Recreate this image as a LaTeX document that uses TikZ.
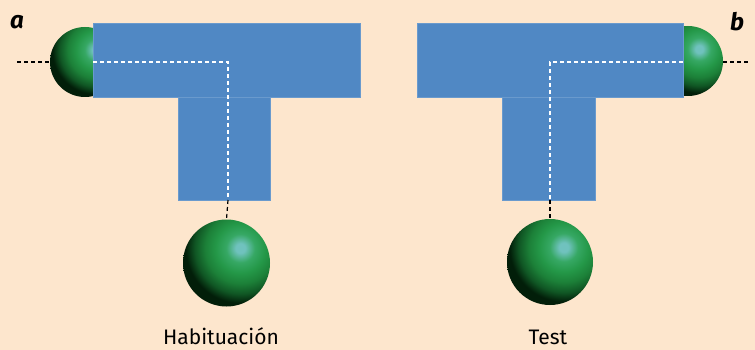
\documentclass[tikz,border=0pt]{standalone}
\usepackage{fontspec}
\setmainfont{Fira Sans}
\definecolor{bgpeach}{RGB}{253,230,205}
\definecolor{tblue}{RGB}{80,136,196}
\definecolor{hl}{RGB}{112,194,190}
\definecolor{gA}{RGB}{54,168,100}
\definecolor{gB}{RGB}{36,152,72}
\definecolor{gC}{RGB}{28,128,56}
\definecolor{gD}{RGB}{16,86,36}
\definecolor{gE}{RGB}{2,30,9}
% radial shading centred on the highlight of each sphere
\pgfdeclareradialshading{spherelight}{\pgfpoint{0bp}{0bp}}{%
  color(0bp)=(hl); color(1.8bp)=(hl); color(5.5bp)=(gA); color(9.5bp)=(gB);
  color(13.5bp)=(gC); color(17.5bp)=(gD); color(21bp)=(gE); color(50bp)=(gE)}
\tikzset{
  ball/.style={circle, inner sep=0pt, minimum size=2*#1,
    path picture={\shade[shading=spherelight]
      ([shift={(0.32*#1,0.34*#1)}]path picture bounding box.center) circle (1.5*#1);}},
  bar/.style={fill=tblue, draw=tblue!85!white, line width=0.6pt},
  pathin/.style={white, line width=1.5pt, dash pattern=on 4pt off 3pt},
  pathout/.style={black, line width=1.2pt, dash pattern=on 4pt off 3pt},
  caption/.style={font=\fontsize{21}{24}\selectfont, anchor=base, inner sep=0pt},
  panel/.style={font=\fontsize{24}{26}\selectfont\bfseries\itshape}
}
\begin{document}
\begin{tikzpicture}[x=1pt, y=-1pt]
\fill[bgpeach] (0,0) rectangle (755,350);
\useasboundingbox (0,0) rectangle (755,350);

% ---- left maze (a) ----
\node[ball=35pt] (startA) at (85,62) {};
\node[ball=43.5pt] (goalA) at (226.5,263) {};
\fill[bar] (93,23) rectangle (360,97);
\fill[bar] (178,97) rectangle (270,200);
\coordinate (inA) at (17,62);
\coordinate (turnA) at (228,62);
\coordinate (exitA) at (228,200);
\draw[pathout] (inA) -- (startA.west);
\draw[pathin] (93,62) -- (turnA) -- (exitA);
\draw[pathout] (exitA) -- (goalA.north);
\node[panel] (la) at (17,22) {a};
\node[caption] (capA) at (221,344) {Habituación};

% ---- right maze (b) ----
\node[ball=35pt] (startB) at (688,61) {};
\node[ball=43pt] (goalB) at (550,262) {};
\fill[bar] (417,23) rectangle (683,97);
\fill[bar] (502,97) rectangle (595,200);
\coordinate (inB) at (750,62);
\coordinate (turnB) at (550,62);
\coordinate (exitB) at (550,200);
\draw[pathout] (startB.east |- inB) -- (inB);
\draw[pathin] (683,62) -- (turnB) -- (exitB);
\draw[pathout] (exitB) -- (goalB.north);
\node[panel] (lb) at (737,22) {b};
\node[caption] (capB) at (548,344) {Test};
\end{tikzpicture}
\end{document}
